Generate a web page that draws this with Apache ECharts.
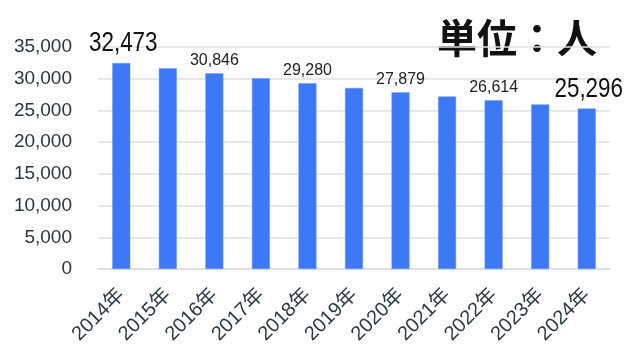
<!DOCTYPE html>
<html><head><meta charset="utf-8">
<script src="https://cdn.jsdelivr.net/npm/echarts@6/dist/echarts.min.js"></script>
<style>html,body{margin:0;padding:0;background:#fff}#c{width:640px;height:357px}</style>
</head><body><div id="c"></div>
<script>
const categories = ['2014年','2015年','2016年','2017年','2018年','2019年','2020年','2021年','2022年','2023年','2024年'];
const values = [32473, 31650, 30846, 30060, 29280, 28550, 27879, 27200, 26614, 25950, 25296];
const labelStyle = ['big','none','small','none','small','none','small','none','small','none','big'];
const yTicks = {min: 0, max: 35000, interval: 5000};
const unitText = '単位：人';

const fmt = v => v.toLocaleString('en-US');
const chart = echarts.init(document.getElementById('c'));
const data = values.map((v, i) => {
  const s = labelStyle[i];
  const label = s === 'small'
    ? {show: true, position: 'top', distance: 5, fontSize: 16, color: '#222', fontFamily: '"Liberation Sans", Arial, sans-serif'}
    : {show: false};
  return {value: v, label};
});
const bigIdx = labelStyle.map((s, i) => s === 'big' ? i : -1).filter(i => i >= 0);
chart.setOption({
  animation: false,
  backgroundColor: '#fff',
  grid: {left: 98, right: 30, top: 47, bottom: 88},
  xAxis: {
    type: 'category', data: categories,
    axisTick: {show: false},
    axisLine: {lineStyle: {color: '#d9dddf', width: 1.5}},
    axisLabel: {rotate: 45, fontSize: 20, color: '#2e3a42', margin: 23, interval: 0,
      fontFamily: '"Liberation Sans", "Noto Sans CJK JP", sans-serif'}
  },
  yAxis: {
    type: 'value', min: yTicks.min, max: yTicks.max, interval: yTicks.interval,
    axisLine: {show: false}, axisTick: {show: false},
    splitLine: {lineStyle: {color: '#dde1e3', width: 1.5}},
    axisLabel: {fontSize: 19, color: '#2b363e', margin: 26,
      fontFamily: '"Liberation Sans", Arial, sans-serif',
      formatter: v => fmt(v)}
  },
  series: [{
    type: 'bar', data: data, barWidth: 18,
    itemStyle: {color: '#3d78f6', borderColor: '#6a98f7', borderWidth: 0.5},
    label: {formatter: p => fmt(p.value)}
  }, {
    type: 'custom', z: 5,
    data: bigIdx.map(i => [i, values[i]]),
    renderItem: (params, api) => {
      const pt = api.coord([api.value(0), api.value(1)]);
      return {
        type: 'text', x: pt[0] + 2, y: pt[1] - 6, scaleX: 0.83,
        style: {text: fmt(api.value(1)), fontSize: 27, fill: '#111', align: 'center', verticalAlign: 'bottom',
          fontFamily: '"Liberation Sans", Arial, sans-serif'}
      };
    }
  }],
  graphic: [{
    type: 'text', right: 43, top: 18,
    style: {text: unitText, fontSize: 40, fontWeight: 'bold', fill: '#111',
      fontFamily: '"Noto Sans CJK JP", sans-serif'}
  }]
});
</script></body></html>
